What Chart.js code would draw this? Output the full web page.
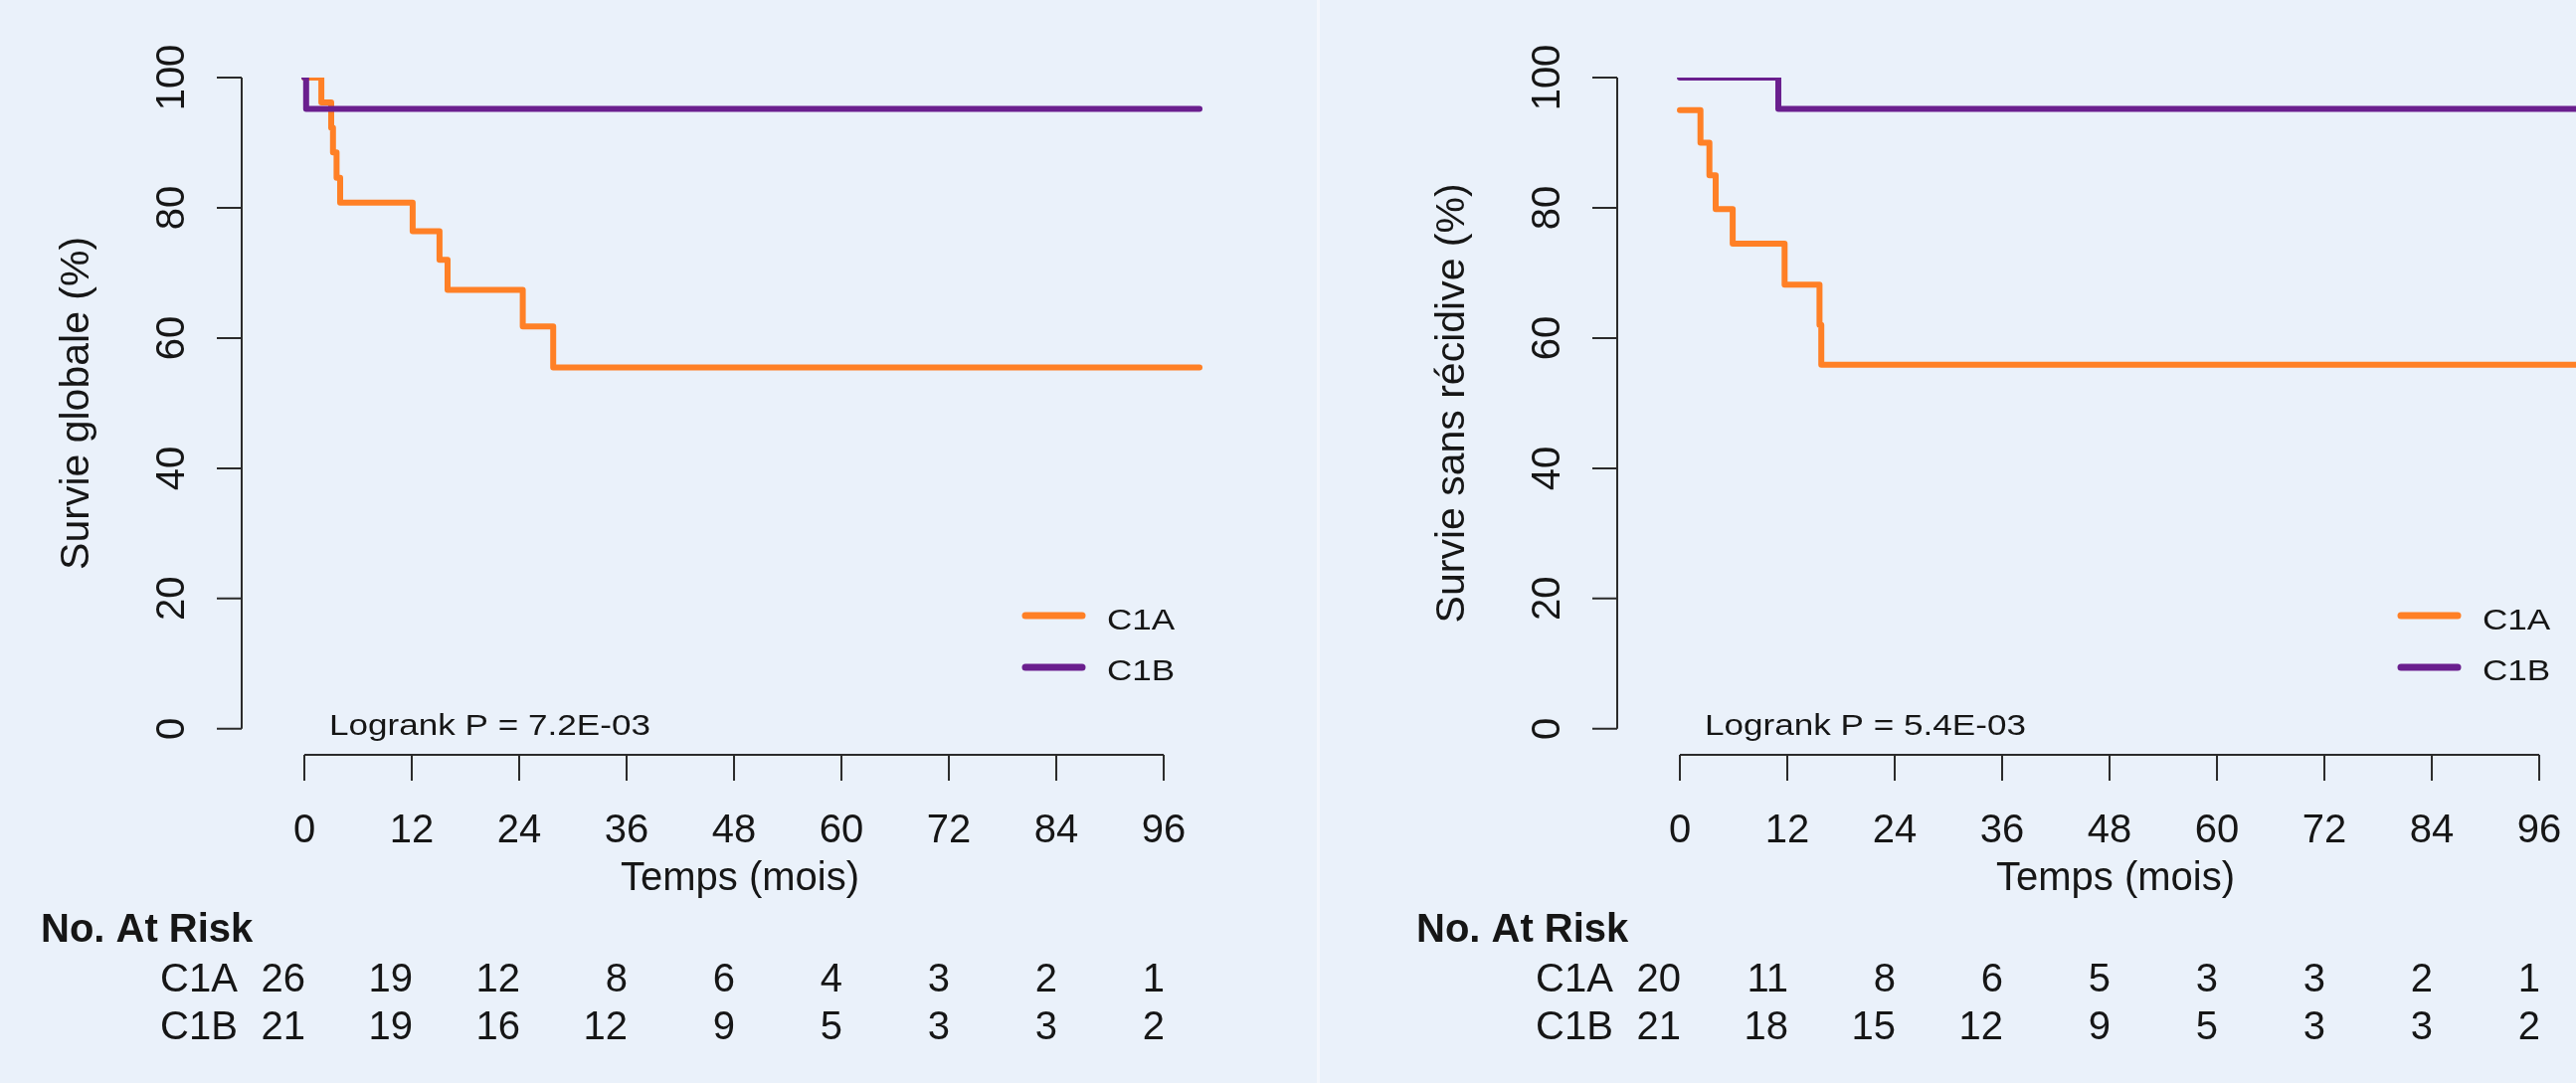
<!DOCTYPE html>
<html>
<head>
<meta charset="utf-8">
<script src="https://cdn.jsdelivr.net/npm/chart.js@4.4.1/dist/chart.umd.min.js"></script>
<style>
html,body{margin:0;padding:0;background:#EAF1FA;width:2590px;height:1089px;overflow:hidden;position:relative}
canvas{position:absolute;top:0}
#sep{position:absolute;left:1324px;top:0;width:3px;height:1089px;background:#F4F7FC}
</style>
</head>
<body>
<canvas id="os" width="1324" height="1089" style="left:0"></canvas>
<div id="sep"></div>
<canvas id="rfs" width="1324" height="1089" style="left:1383px"></canvas>
<script>
// ---------- data ----------
const xTicks = [0, 12, 24, 36, 48, 60, 72, 84, 96];
const yTicks = [0, 20, 40, 60, 80, 100];
const groups = ['C1A', 'C1B'];

// Overall survival (left panel)
const osTimeC1A = [0, 1.9, 3.0, 3.2, 3.6, 4.0, 12.1, 15.1, 16.0, 24.4, 27.8, 100];
const osSurvC1A = [100, 96.2, 92.3, 88.5, 84.6, 80.8, 76.4, 72.0, 67.4, 61.8, 55.5, 55.5];
const osTimeC1B = [0, 0.2, 100];
const osSurvC1B = [100, 95.2, 95.2];
const osRiskC1A = [26, 19, 12, 8, 6, 4, 3, 2, 1];
const osRiskC1B = [21, 19, 16, 12, 9, 5, 3, 3, 2];

// Recurrence-free survival (right panel)
const rfsTimeC1A = [0, 2.3, 3.3, 4.0, 5.9, 11.7, 15.6, 15.8, 102];
const rfsSurvC1A = [95.0, 90.0, 85.0, 79.8, 74.5, 68.2, 62.0, 55.9, 55.9];
const rfsTimeC1B = [0, 11.0, 102];
const rfsSurvC1B = [100, 95.2, 95.2];
const rfsRiskC1A = [20, 11, 8, 6, 5, 3, 3, 2, 1];
const rfsRiskC1B = [21, 18, 15, 12, 9, 5, 3, 3, 2];

const colC1A = '#FF8026';
const colC1B = '#6A1F8E';
const FONT = '"Liberation Sans", Arial, Helvetica, sans-serif';
const TXT = '#161616';
const AX = '#2b2b2b';

function pts(t, s) { return t.map((v, i) => ({ x: v, y: s[i] })); }

function rPlugin(p) {
  return {
    id: 'rstyle_' + p.id,
    afterDraw(chart) {
      const ctx = chart.ctx, xs = chart.scales.x, ys = chart.scales.y, ca = chart.chartArea;
      ctx.save();
      ctx.strokeStyle = AX; ctx.lineWidth = 2; ctx.lineCap = 'butt';
      // y axis
      ctx.beginPath();
      ctx.moveTo(ca.left, ys.getPixelForValue(yTicks[0]));
      ctx.lineTo(ca.left, ys.getPixelForValue(yTicks[yTicks.length - 1]));
      yTicks.forEach(v => { const y = ys.getPixelForValue(v); ctx.moveTo(ca.left - 25, y); ctx.lineTo(ca.left, y); });
      ctx.stroke();
      // x axis
      ctx.beginPath();
      ctx.moveTo(xs.getPixelForValue(xTicks[0]), ca.bottom);
      ctx.lineTo(xs.getPixelForValue(xTicks[xTicks.length - 1]), ca.bottom);
      xTicks.forEach(v => { const x = xs.getPixelForValue(v); ctx.moveTo(x, ca.bottom); ctx.lineTo(x, ca.bottom + 26); });
      ctx.stroke();

      ctx.fillStyle = TXT;
      ctx.font = '40px ' + FONT;
      // y tick labels (rotated)
      ctx.textAlign = 'center'; ctx.textBaseline = 'alphabetic';
      yTicks.forEach(v => {
        ctx.save(); ctx.translate(185, ys.getPixelForValue(v)); ctx.rotate(-Math.PI / 2);
        ctx.fillText(String(v), 0, 0); ctx.restore();
      });
      // x tick labels
      xTicks.forEach(v => ctx.fillText(String(v), xs.getPixelForValue(v), 847));
      // x title
      ctx.fillText('Temps (mois)', (ca.left + ca.right) / 2, 895);
      // y title
      ctx.save();
      ctx.font = '41px ' + FONT;
      ctx.translate(89, (ys.getPixelForValue(0) + ys.getPixelForValue(100)) / 2);
      ctx.rotate(-Math.PI / 2);
      ctx.fillText(p.yTitle, 0, 0);
      ctx.restore();

      // logrank text
      ctx.save();
      ctx.font = '30px ' + FONT; ctx.textAlign = 'left';
      ctx.translate(331, 739); ctx.scale(1.17, 1);
      ctx.fillText(p.pText, 0, 0);
      ctx.restore();

      // legend
      const legY = [619, 671], legTxtY = [633, 684], legCol = [colC1A, colC1B];
      groups.forEach((g, i) => {
        ctx.save();
        ctx.strokeStyle = legCol[i]; ctx.lineWidth = 7; ctx.lineCap = 'round';
        ctx.beginPath(); ctx.moveTo(1031, legY[i]); ctx.lineTo(1088, legY[i]); ctx.stroke();
        ctx.font = '30px ' + FONT; ctx.textAlign = 'left'; ctx.fillStyle = TXT;
        ctx.translate(1113, legTxtY[i]); ctx.scale(1.17, 1);
        ctx.fillText(g, 0, 0);
        ctx.restore();
      });

      // number at risk table
      ctx.font = 'bold 40px ' + FONT; ctx.textAlign = 'left';
      ctx.fillText('No. At Risk', 41, 947);
      ctx.font = '40px ' + FONT;
      const rowY = [997, 1045];
      p.risk.forEach((row, i) => {
        ctx.textAlign = 'left';
        ctx.fillText(groups[i], 161, rowY[i]);
        ctx.textAlign = 'right';
        row.forEach((n, j) => ctx.fillText(String(n), xs.getPixelForValue(xTicks[j]) + 1, rowY[i]));
      });
      ctx.restore();
    }
  };
}

function makeChart(id, p) {
  new Chart(document.getElementById(id), {
    type: 'line',
    data: {
      datasets: [
        { label: groups[0], data: pts(p.t1, p.s1), borderColor: colC1A, borderWidth: 6, stepped: true,
          pointRadius: 0, fill: false, order: 2, borderCapStyle: 'round', borderJoinStyle: 'round' },
        { label: groups[1], data: pts(p.t2, p.s2), borderColor: colC1B, borderWidth: 6, stepped: true,
          pointRadius: 0, fill: false, order: 1, borderCapStyle: 'round', borderJoinStyle: 'round' }
      ]
    },
    options: {
      responsive: false, animation: false, devicePixelRatio: 1, events: [],
      layout: { padding: { left: 243, right: 79, top: 78, bottom: 330 } },
      scales: {
        x: { type: 'linear', min: -7, max: 104.33, display: false },
        y: { type: 'linear', min: -4, max: 100, display: false }
      },
      plugins: { legend: { display: false }, tooltip: { enabled: false }, title: { display: false } }
    },
    plugins: [rPlugin(p)]
  });
}

makeChart('os', { id: 'os', t1: osTimeC1A, s1: osSurvC1A, t2: osTimeC1B, s2: osSurvC1B,
  risk: [osRiskC1A, osRiskC1B], yTitle: 'Survie globale (%)', pText: 'Logrank P = 7.2E-03' });
makeChart('rfs', { id: 'rfs', t1: rfsTimeC1A, s1: rfsSurvC1A, t2: rfsTimeC1B, s2: rfsSurvC1B,
  risk: [rfsRiskC1A, rfsRiskC1B], yTitle: 'Survie sans récidive (%)', pText: 'Logrank P = 5.4E-03' });
</script>
</body>
</html>
